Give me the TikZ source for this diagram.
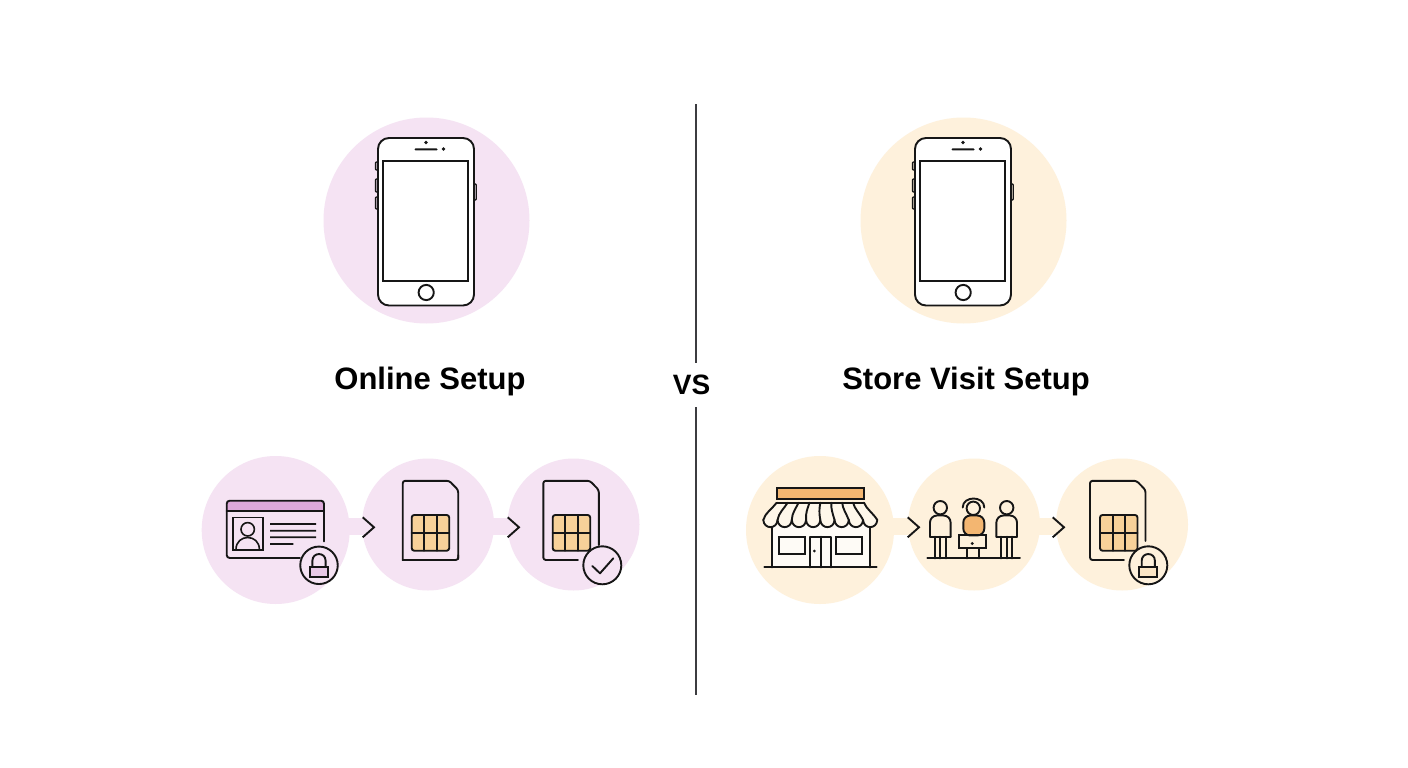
\documentclass[tikz,border=0pt]{standalone}
\usepackage{fontspec}
\setmainfont{Liberation Sans}
\definecolor{pinkbg}{HTML}{F5E3F3}
\definecolor{creambg}{HTML}{FEF1DC}
\definecolor{pinkbar}{HTML}{DDA8D9}
\definecolor{pinklock}{HTML}{E8C8E6}
\definecolor{chipfill}{HTML}{F7D199}
\definecolor{orangefill}{HTML}{F3B671}
\definecolor{creamlock}{HTML}{FBE6C6}
\definecolor{ink}{HTML}{161616}
\definecolor{rule}{HTML}{3C3C40}
\tikzset{
  ln/.style={draw=ink,line width=1.9pt,line join=round,line cap=round},
  pinkdisc/.style={circle,fill=pinkbg,inner sep=0pt},
  creamdisc/.style={circle,fill=creambg,inner sep=0pt},
  bandline/.style={line width=17pt},
  chev/.style={ln,line cap=butt,line join=miter},
  title/.style={font=\fontsize{31}{35}\selectfont\bfseries,text=black,inner sep=0pt},
  vstitle/.style={font=\fontsize{28}{32}\selectfont\bfseries,text=black,inner sep=0pt},
  divider/.style={draw=rule,line width=1.7pt}
}
% phone at horizontal offset #1
\newcommand{\phonepic}[1]{
  \begin{scope}[shift={(#1,0)}]
    \foreach \ya/\yb in {162/170,179/192,197/209}
      \draw[ln,line width=1.3pt,rounded corners=.8pt] (375.6,\ya) rectangle (378.5,\yb);
    \draw[ln,line width=1.3pt,rounded corners=.8pt] (473.5,184) rectangle (476.2,200);
    \draw[ln,fill=white,rounded corners=11pt] (378,138) rectangle (474,305.5);
    \draw[ln,line join=miter] (383.2,161.3) rectangle (468.2,281.2);
    \fill[ink,rounded corners=.9pt] (414.5,148.4) rectangle (437.5,150.4);
    \fill[ink] (426,142.5) circle (1.8) (443.5,149) circle (1.9);
    \draw[ln] (426.2,292.5) circle (7.6);
  \end{scope}
}
% SIM outline with chip: #1 left x, #2 chip left x, #3 right edge end y, #4 bottom edge end x, #5 chip colour
\newcommand{\simpic}[5]{
  \draw[ln,fill=#5] (#2,515) [rounded corners=2.5pt] -- (#2,550.7) -- ({#2+37.5},550.7) -- ({#2+37.5},515) -- cycle;
  \draw[ln] ({#2+12.6},515) -- ({#2+12.6},550.7) ({#2+25.4},515) -- ({#2+25.4},550.7) (#2,533) -- ({#2+37.5},533);
  \draw[ln,rounded corners=2.5pt] (#4,560) -- (#1,560) -- (#1,480.8) -- ({#1+46.5},480.8) -- ({#1+55.5},490) -- ({#1+55.5},#3);
}
% padlock inside a badge centred at (#1,#2), fill #3
\newcommand{\lockpic}[3]{
  \begin{scope}[shift={(#1,#2)}]
    \draw[ln] (-6.6,1.4) -- (-6.6,-4.5) .. controls (-6.6,-13.5) and (6.6,-13.5) .. (6.6,-4.5) -- (6.6,1.4);
    \draw[ln,fill=#3,line join=miter] (-9,1.4) rectangle (9,12);
  \end{scope}
}
% standing person centred on x=#1
\newcommand{\personpic}[1]{
  \begin{scope}[shift={(#1,0)}]
    \draw[ln] (0,507.7) circle (6.7);
    \draw[ln,rounded corners=7pt] (-10.3,536.7) -- (-10.3,515.5) -- (10.3,515.5) -- (10.3,536.7);
    \draw[ln] (-10.3,536.7) -- (10.3,536.7);
    \draw[ln] (-5.3,536.7) -- (-5.3,558.3) (0,536.7) -- (0,558.3) (5.3,536.7) -- (5.3,558.3);
  \end{scope}
}
\begin{document}
\begin{tikzpicture}[x=1pt,y=-1pt]
\path[use as bounding box,fill=white] (0,0) rectangle (1408,768);

% big discs
\node[pinkdisc,minimum size=206pt] (bigL) at (426.5,220.5) {};
\node[creamdisc,minimum size=206pt] (bigR) at (963.5,220.5) {};
\phonepic{0}
\phonepic{537}

% headings
\node[title] (tL) at (430,381.5) {Online Setup};
\node[title] (tR) at (966,381.5) {Store Visit Setup};
\node[vstitle] (vs) at (691.5,385) {VS};
\coordinate (divA) at (696,104);
\coordinate (divB) at (696,363);
\coordinate (divC) at (696,407);
\coordinate (divD) at (696,695);
\draw[divider] (divA) -- (divB);
\draw[divider] (divC) -- (divD);

% connector bands (under the discs)
\coordinate (bL1a) at (340,526.7); \coordinate (bL1b) at (372,526.7);
\coordinate (bL2a) at (485,526.7); \coordinate (bL2b) at (517,526.7);
\coordinate (bR1a) at (885,526.7); \coordinate (bR1b) at (917,526.7);
\coordinate (bR2a) at (1030,526.7); \coordinate (bR2b) at (1062,526.7);
\draw[pinkbg,bandline] (bL1a) -- (bL1b);
\draw[pinkbg,bandline] (bL2a) -- (bL2b);
\draw[creambg,bandline] (bR1a) -- (bR1b);
\draw[creambg,bandline] (bR2a) -- (bR2b);

% step discs
\node[pinkdisc,minimum size=148pt] (p1) at (275.7,530) {};
\node[pinkdisc,minimum size=132pt] (p2) at (428,524.5) {};
\node[pinkdisc,minimum size=132pt] (p3) at (573.5,524.5) {};
\node[creamdisc,minimum size=148pt] (c1) at (820,530) {};
\node[creamdisc,minimum size=132pt] (c2) at (974,524.5) {};
\node[creamdisc,minimum size=132pt] (c3) at (1122,524.5) {};

% chevrons
\foreach \cx in {362.7,507.7,907.7,1052.7}
  \draw[chev] (\cx,517.3) -- ({\cx+11.3},527.3) -- (\cx,537.3);

% ID card
\fill[pinkbar,rounded corners=2pt] (226.7,500.7) rectangle (324,511);
\draw[ln] (226.7,511) -- (324,511);
\draw[ln,rounded corners=3pt] (300,558) -- (226.7,558) -- (226.7,500.7) -- (324,500.7) -- (324,541.5);
\draw[ln,line width=1.6pt,line join=miter] (232.7,517.3) rectangle (262.7,550);
\draw[ln,line width=1.6pt] (247.7,529.3) circle (6.7);
\draw[ln,line width=1.6pt] (236,549.5) .. controls (236,533.5) and (259.4,533.5) .. (259.4,549.5);
\fill[ink] (270,523.1) rectangle (316,524.9) (270,529.8) rectangle (316,531.6) (270,536.4) rectangle (316,538.2) (270,543.1) rectangle (293.3,544.9);
\node[circle,ln,fill=pinkbg,minimum size=37.5pt,inner sep=0pt] (lockA) at (319,565.3) {};
\lockpic{319}{565.3}{pinklock}

% SIM 2
\simpic{402.7}{411.7}{559}{402.7}{chipfill}
\draw[ln,rounded corners=2.5pt] (402.7,560) -- (458.2,560) -- (458.2,555);
% SIM 3
\simpic{543.3}{552.7}{545}{578}{chipfill}
\node[circle,ln,fill=pinkbg,minimum size=38pt,inner sep=0pt] (chk) at (602.3,565.3) {};
\draw[ln] (592.3,566) -- (600,573.3) -- (613.3,558.3);

% Store
\draw[ln,fill=orangefill,line join=miter] (776.7,487.7) rectangle (864,499);
\fill[white,opacity=.75] (772.3,525) rectangle (869.7,567.3);
\draw[ln] (772.3,525) -- (772.3,567.3) (869.7,525) -- (869.7,567.3);
\draw[ln] (764.3,567.3) -- (876.7,567.3);
\draw[ln,line join=miter] (779,536.7) rectangle (805,554.3);
\draw[ln,line join=miter] (836,536.7) rectangle (862.3,554.3);
\draw[ln] (810.3,567.3) -- (810.3,536.7) -- (831,536.7) -- (831,567.3) (820.7,536.7) -- (820.7,567.3);
\fill[ink] (814.3,551) circle (1.5);
\fill[creambg!60!white] (776.7,502.7) -- (864,502.7) -- (877.3,520) -- (763.3,520) -- cycle;
\draw[ln] (776.7,502.7) -- (864,502.7);
\foreach \i in {0,...,8}
  \draw[ln] ({776.7+\i*10.91},502.7) .. controls ({772+\i*11.8},509) and ({765+\i*13.5},513) .. ({763.3+\i*14.25},520);
\foreach \i in {0,...,7}
  \draw[ln,fill=creambg!60!white] ({763.3+\i*14.25},520) .. controls ({764+\i*14.25},529.5) and ({762.6+(\i+1)*14.25},529.5) .. ({763.3+(\i+1)*14.25},520);

% People
\draw[ln] (927.3,558.3) -- (1020,558.3);
\personpic{940.3}
\personpic{1006.7}
\draw[ln] (973.3,508.3) circle (6.7);
\draw[ln] (962.7,507.5) .. controls (962.7,495.5) and (984.3,495.5) .. (984.3,507.5);
\draw[ln,fill=orangefill,rounded corners=7pt] (963.3,535.5) -- (963.3,515.5) -- (984.3,515.5) -- (984.3,535.5) -- cycle;
\draw[ln,line join=miter] (959,535.3) rectangle (985.7,548.3);
\fill[ink] (972.3,543.5) circle (1.6);
\draw[ln] (966.7,548.3) -- (966.7,558.3) (979.3,548.3) -- (979.3,558.3);

% SIM right
\simpic{1090}{1100}{541}{1124}{chipfill}
\node[circle,ln,fill=creambg,minimum size=38pt,inner sep=0pt] (lockB) at (1148.3,565.3) {};
\lockpic{1148.3}{565.3}{creamlock}
\end{tikzpicture}
\end{document}
